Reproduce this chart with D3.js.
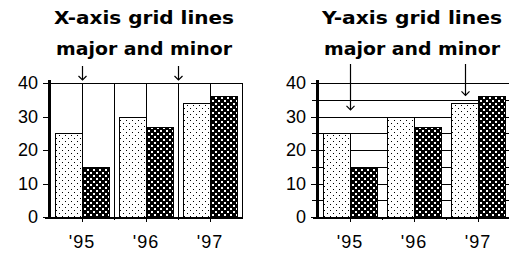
<!DOCTYPE html>
<html><head><meta charset="utf-8">
<script src="https://cdn.jsdelivr.net/npm/d3@7"></script>
<style>
html,body{margin:0;padding:0;background:#fff;}
svg{display:block;}
text{fill:#000;}
</style></head>
<body>
<svg id="c" width="509" height="259"></svg>
<script>
const categories = ["'95", "'96", "'97"];
const seriesLight = [25, 30, 34];
const seriesDark = [15, 27, 36];
const yTicks = [0, 10, 20, 30, 40];
const yMinorTicks = [5, 15, 25, 35];
const titlesLeft = ["X-axis grid lines", "major and minor"];
const titlesRight = ["Y-axis grid lines", "major and minor"];

const svg = d3.select("#c");
const defs = svg.append("defs");

// patterns
const pl = defs.append("pattern").attr("id","light").attr("patternUnits","userSpaceOnUse")
  .attr("width",6).attr("height",6);
pl.append("rect").attr("width",6).attr("height",6).attr("fill","#fff");
pl.append("rect").attr("x",0).attr("y",0).attr("width",1).attr("height",1).attr("fill","#000");
pl.append("rect").attr("x",3).attr("y",3).attr("width",1).attr("height",1).attr("fill","#000");
const pd = defs.append("pattern").attr("id","dark").attr("patternUnits","userSpaceOnUse")
  .attr("width",6).attr("height",6);
pd.append("rect").attr("width",6).attr("height",6).attr("fill","#000");
pd.append("rect").attr("x",1).attr("y",1).attr("width",2).attr("height",2).attr("fill","#fff");
pd.append("rect").attr("x",4).attr("y",4).attr("width",2).attr("height",2).attr("fill","#fff");

const y = d3.scaleLinear().domain([0, 40]).range([217, 83]);
const data = categories.map((c, i) => ({c, v: [seriesLight[i], seriesDark[i]]}));
const labelFont = "'Liberation Sans', Arial, sans-serif";

function drawChart(x0, x1, opts) {
  const g = svg.append("g").attr("shape-rendering","crispEdges");
  const xs = d3.scaleBand().domain(categories).range([x0, x1]);
  const bw = xs.bandwidth();
  const xi = d3.scaleBand().domain([0,1]).range([bw*0.08, bw*0.92]);

  if (opts.xGrid) {
    categories.forEach(c => {
      const cx = Math.round(xs(c) + bw/2) + 0.5;
      g.append("line").attr("x1",cx).attr("x2",cx).attr("y1",y(40)).attr("y2",y(0)).attr("stroke","#000");
      const bx = Math.round(xs(c) + bw) + 0.5;
      g.append("line").attr("x1",bx).attr("x2",bx).attr("y1",y(40)).attr("y2",y(0)).attr("stroke","#000");
    });
    g.append("line").attr("x1",x0).attr("x2",x1).attr("y1",y(40)+0.5).attr("y2",y(40)+0.5).attr("stroke","#000");
  }
  if (opts.yGrid) {
    yTicks.concat(yMinorTicks).forEach(t => {
      const yy = Math.round(y(t)) + 0.5;
      g.append("line").attr("x1",x0-6).attr("x2",x1+5).attr("y1",yy).attr("y2",yy).attr("stroke","#000");
    });
  }

  // bars
  const cg = g.selectAll("g.cat").data(data).join("g").attr("transform", d => `translate(${xs(d.c)},0)`);
  cg.selectAll("rect").data(d => d.v).join("rect")
    .attr("x", (d,i) => Math.round(xi(i)) + 0.5)
    .attr("width", Math.round(xi.bandwidth()))
    .attr("y", d => Math.round(y(d)) + 0.5)
    .attr("height", d => Math.round(y(0) - y(d)))
    .attr("fill", (d,i) => i === 0 ? "url(#light)" : "url(#dark)")
    .attr("stroke", "#000").attr("stroke-width", 1);

  // y axis
  const ya = g.append("g").attr("transform", `translate(${x0},0)`)
    .call(d3.axisLeft(y).tickValues(yTicks).tickSize(7).tickPadding(5).tickFormat(d3.format("d")));
  ya.select(".domain").remove();
  ya.selectAll(".tick line").attr("stroke","#000").attr("stroke-width",1);
  ya.selectAll("text").attr("font-family",labelFont).attr("font-size",18).attr("fill","#000");
  g.append("line").attr("x1",x0-0.5).attr("x2",x0-0.5).attr("y1",y(40)-3).attr("y2",y(0)+1)
    .attr("stroke","#000").attr("stroke-width",3);

  // x axis
  const xa = g.append("g").attr("transform", `translate(0,${y(0)})`)
    .call(d3.axisBottom(xs).tickSize(5).tickPadding(13));
  xa.select(".domain").remove();
  xa.selectAll(".tick line").attr("stroke","#000");
  xa.selectAll("text").attr("font-family",labelFont).attr("font-size",18).attr("fill","#000")
    .attr("letter-spacing", 1);
  categories.slice(1).forEach(c => {
    const bx = Math.round(xs(c)) + 0.5;
    g.append("line").attr("x1",bx).attr("x2",bx).attr("y1",y(0)).attr("y2",y(0)+3).attr("stroke","#000");
  });
  g.append("line").attr("x1",x0-5).attr("x2",x1+1).attr("y1",y(0)+0.5).attr("y2",y(0)+0.5)
    .attr("stroke","#000").attr("stroke-width",2);

  // titles
  const tcx = (x0 + x1) / 2 - 2;
  opts.titles.forEach((t, i) => {
    svg.append("text").attr("x", tcx).attr("y", 24 + i*31).attr("text-anchor","middle")
      .attr("font-family","'DejaVu Sans', sans-serif").attr("font-weight","bold").attr("font-size",17.5)
      .attr("textLength", i === 0 ? 180 : 176).attr("lengthAdjust","spacingAndGlyphs").text(t);
  });

  // arrows
  opts.arrows.forEach(a => {
    const ax = Math.round(a.x(xs, bw, xi)) + 0.5;
    const ty = a.tip;
    const ag = svg.append("g").attr("stroke","#000").attr("fill","none").attr("stroke-width",1.2);
    ag.append("line").attr("x1",ax).attr("x2",ax).attr("y1",a.from).attr("y2",ty);
    ag.append("path").attr("d",`M${ax-4},${ty-4}L${ax},${ty}L${ax+4},${ty-4}`);
  });
}

drawChart(50, 242, {
  xGrid: true, yGrid: false, titles: titlesLeft,
  arrows: [
    {x: (xs, bw) => xs(categories[0]) + bw/2, from: 66, tip: 80},
    {x: (xs, bw) => xs(categories[2]), from: 66, tip: 80}
  ]
});
drawChart(318, 510, {
  xGrid: false, yGrid: true, titles: titlesRight,
  arrows: [
    {x: (xs, bw) => xs(categories[0]) + bw/2, from: 64, tip: y(32)},
    {x: (xs, bw, xi) => xs(categories[2]) + xi(0) + xi.bandwidth()/2, from: 64, tip: y(36.3)}
  ]
});
</script>
</body></html>
